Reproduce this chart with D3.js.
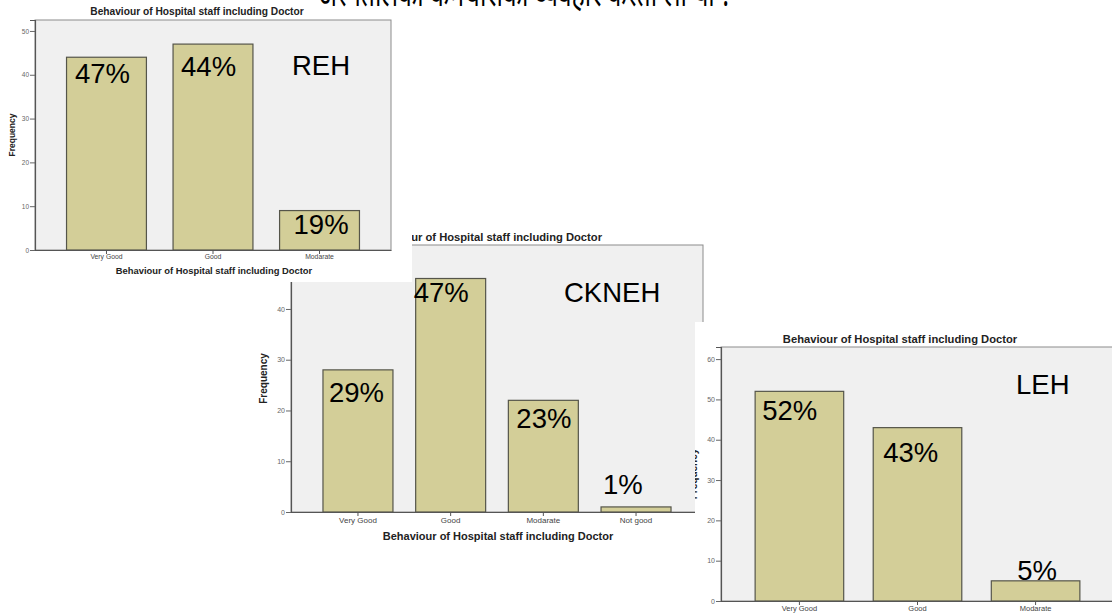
<!DOCTYPE html>
<html>
<head>
<meta charset="utf-8">
<script src="https://cdn.jsdelivr.net/npm/d3@7"></script>
<style>
  html, body { margin: 0; padding: 0; background: #ffffff; }
  svg { display: block; font-family: "Liberation Sans", Arial, sans-serif; }
</style>
</head>
<body>
<svg id="chart" width="1112" height="614"></svg>
<script>
// ---------- data ----------
const headline = "अस्पतालका कर्मचारीको व्यवहार कस्तो लाग्यो ?";
const chartTitle = "Behaviour of Hospital staff including Doctor";
const yAxisTitle = "Frequency";

const categoriesREH = ["Very Good", "Good", "Modarate"];
const countsREH = [44, 47, 9];
const percentREH = ["47%", "44%", "19%"];
const ticksREH = [0, 10, 20, 30, 40, 50];

const categoriesCKNEH = ["Very Good", "Good", "Modarate", "Not good"];
const countsCKNEH = [28, 46, 22, 1];
const percentCKNEH = ["29%", "47%", "23%", "1%"];
const ticksCKNEH = [0, 10, 20, 30, 40, 50];

const categoriesLEH = ["Very Good", "Good", "Modarate"];
const countsLEH = [52, 43, 5];
const percentLEH = ["52%", "43%", "5%"];
const ticksLEH = [0, 10, 20, 30, 40, 50, 60];

// ---------- layout ----------
const panels = [
  { name: "CKNEH", cats: categoriesCKNEH, counts: countsCKNEH, pct: percentCKNEH, ticks: ticksCKNEH,
    box: [250, 226, 712, 548], plot: [291, 245, 703, 512], yMax: 52.6, pIn: 0.245, pOut: 0.345,
    title: { x: 602, y: 241, anchor: "end", size: 11.2 },
    xTitle: { x: 498, y: 540, size: 11 }, yTitle: { x: 267, size: 10 }, catY: 523, catSize: 8, tickSize: 7,
    nameLab: { x: 564, y: 302 },
    off: [[6, 32], [-2, 23.5], [8, 28], [2, -13]] },
  { name: "REH", cats: categoriesREH, counts: countsREH, pct: percentREH, ticks: ticksREH,
    box: [0, 0, 412, 282], plot: [35, 20, 391, 250], yMax: 52.5, pIn: 0.25, pOut: 0.296,
    title: { x: 197, y: 15, anchor: "middle", size: 10.2 },
    xTitle: { x: 214, y: 274, size: 9.4 }, yTitle: { x: 15, size: 8.5 }, catY: 259, catSize: 6.8, tickSize: 6.5,
    nameLab: { x: 292, y: 75 },
    off: [[8.5, 26], [8, 32], [14, 23]] },
  { name: "LEH", cats: categoriesLEH, counts: countsLEH, pct: percentLEH, ticks: ticksLEH,
    box: [695, 322, 1112, 614], plot: [721, 347, 1114, 601], yMax: 63, pIn: 0.25, pOut: 0.289,
    title: { x: 900, y: 343, anchor: "middle", size: 11.2 },
    xTitle: null, yTitle: { x: 697, size: 10 }, catY: 611, catSize: 7.5, tickSize: 7,
    nameLab: { x: 1016, y: 394 },
    off: [[7, 28.6], [10, 34], [26, -1]] }
];

const svg = d3.select("#chart");
const defs = svg.append("defs");

panels.forEach((p, i) => {
  const [bx0, by0, bx1, by1] = p.box;
  const [px0, py0, px1, py1] = p.plot;
  defs.append("clipPath").attr("id", "clip" + i)
    .append("rect").attr("x", bx0).attr("y", by0).attr("width", bx1 - bx0).attr("height", by1 - by0);

  const g = svg.append("g").attr("clip-path", `url(#clip${i})`);
  g.append("rect").attr("x", bx0).attr("y", by0).attr("width", bx1 - bx0).attr("height", by1 - by0)
    .attr("fill", "#ffffff");

  const x = d3.scaleBand().domain(p.cats).range([px0, px1]).paddingInner(p.pIn).paddingOuter(p.pOut);
  const y = d3.scaleLinear().domain([0, p.yMax]).range([py1, py0]);

  // plot frame
  g.append("rect").attr("x", px0).attr("y", py0).attr("width", px1 - px0).attr("height", py1 - py0)
    .attr("fill", "#f0f0f0").attr("stroke", "#8c8c8c").attr("stroke-width", 1);

  // title
  g.append("text").attr("x", p.title.x).attr("y", p.title.y).attr("text-anchor", p.title.anchor)
    .attr("font-size", p.title.size).attr("font-weight", "bold").attr("fill", "#222").text(chartTitle);

  // bars
  g.selectAll("rect.bar").data(p.counts).enter().append("rect").attr("class", "bar")
    .attr("x", (d, j) => x(p.cats[j]))
    .attr("y", d => y(d))
    .attr("width", x.bandwidth())
    .attr("height", d => y(0) - y(d))
    .attr("fill", "#d3ce98").attr("stroke", "#55554a").attr("stroke-width", 1.2);

  // y axis
  const yAx = g.append("g").attr("transform", `translate(${px0},0)`)
    .call(d3.axisLeft(y).tickValues(p.ticks).tickSize(5).tickPadding(1).tickFormat(d3.format("d")));
  yAx.select(".domain").attr("stroke", "#555").attr("stroke-width", 1.2);
  yAx.selectAll(".tick line").attr("stroke", "#666");
  yAx.selectAll(".tick text").attr("font-size", p.tickSize).attr("fill", "#666")
    .attr("font-family", "Liberation Sans, Arial, sans-serif");

  // x axis
  const xAx = g.append("g").attr("transform", `translate(0,${py1})`)
    .call(d3.axisBottom(x).tickSize(4).tickSizeOuter(0).tickFormat(() => ""));
  xAx.select(".domain").attr("stroke", "#555").attr("stroke-width", 1.2);
  xAx.selectAll(".tick line").attr("stroke", "#555");
  g.selectAll("text.cat").data(p.cats).enter().append("text").attr("class", "cat")
    .attr("x", d => x(d) + x.bandwidth() / 2).attr("y", p.catY).attr("text-anchor", "middle")
    .attr("font-size", p.catSize).attr("fill", "#444").text(d => d);

  // axis titles
  if (p.xTitle) {
    g.append("text").attr("x", p.xTitle.x).attr("y", p.xTitle.y).attr("text-anchor", "middle")
      .attr("font-size", p.xTitle.size).attr("font-weight", "bold").attr("fill", "#222").text(chartTitle);
  }
  g.append("text").attr("transform", `translate(${p.yTitle.x},${(py0 + py1) / 2}) rotate(-90)`)
    .attr("text-anchor", "middle").attr("font-size", p.yTitle.size).attr("font-weight", "bold")
    .attr("fill", "#222").text(yAxisTitle);

  // percent annotations
  g.selectAll("text.pct").data(p.pct).enter().append("text").attr("class", "pct")
    .attr("x", (d, j) => x(p.cats[j]) + p.off[j][0])
    .attr("y", (d, j) => y(p.counts[j]) + p.off[j][1])
    .attr("font-size", 27.5).attr("fill", "#000").text(d => d);

  // panel name
  g.append("text").attr("x", p.nameLab.x).attr("y", p.nameLab.y)
    .attr("font-size", 27.5).attr("fill", "#000").text(p.name);
});

// headline (mostly cut off at the top edge)
svg.append("text").attr("x", 318).attr("y", 6).attr("font-size", 36)
  .attr("textLength", 414).attr("lengthAdjust", "spacingAndGlyphs")
  .attr("font-family", "Noto Sans, sans-serif").attr("fill", "#000").text(headline);
</script>
</body>
</html>
